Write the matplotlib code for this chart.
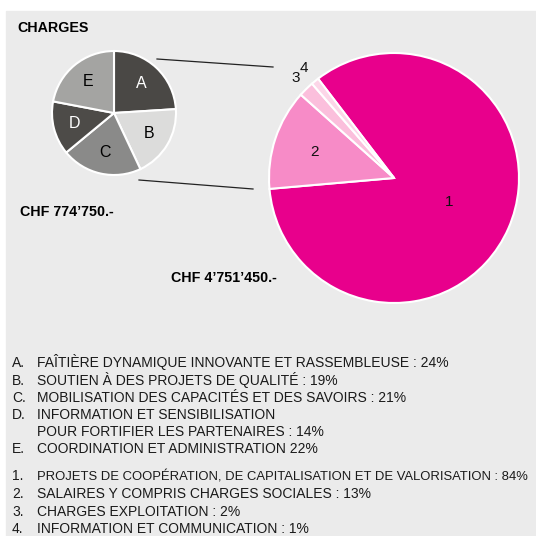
import matplotlib
matplotlib.use('Agg')
import matplotlib.pyplot as plt
from matplotlib.patches import Rectangle
import numpy as np

plt.rcParams['font.family'] = ['Liberation Sans', 'DejaVu Sans']

# Petit camembert (charges par axe)
axes_labels = ['A', 'B', 'C', 'D', 'E']
axes_values = [24, 19, 21, 14, 22]
axes_colors = ['#4a4845', '#dcdcdb', '#8a8a89', '#4d4b48', '#a4a4a2']
axes_text_colors = ['white', 'black', 'black', 'white', 'black']

# Grand camembert (charges par nature)
nat_labels = ['1', '2', '3', '4']
nat_values = [84, 13, 2, 1]
nat_colors = ['#e8008c', '#f78bc7', '#fbbfdc', '#fcd6e8']

legend_axes = [
    'A.|FAÎTIÈRE DYNAMIQUE INNOVANTE ET RASSEMBLEUSE : 24%',
    'B.|SOUTIEN À DES PROJETS DE QUALITÉ : 19%',
    'C.|MOBILISATION DES CAPACITÉS ET DES SAVOIRS : 21%',
    'D.|INFORMATION ET SENSIBILISATION',
    '|POUR FORTIFIER LES PARTENAIRES : 14%',
    'E.|COORDINATION ET ADMINISTRATION 22%',
]
legend_nat = [
    '1.|PROJETS DE COOPÉRATION, DE CAPITALISATION ET DE VALORISATION : 84%',
    '2.|SALAIRES Y COMPRIS CHARGES SOCIALES : 13%',
    '3.|CHARGES EXPLOITATION : 2%',
    '4.|INFORMATION ET COMMUNICATION : 1%',
]

W = H = 536
fig = plt.figure(figsize=(5.36, 5.36), dpi=100)
ax = fig.add_axes([0, 0, 1, 1])

def Y(y):
    return H - y

# fond gris
ax.add_patch(Rectangle((6, 0), 530, Y(11), color='#ebebeb', zorder=0))

# petit camembert
c1, r1 = (114, Y(113)), 62
w1, _ = ax.pie(axes_values, colors=axes_colors, startangle=90, counterclock=False,
               center=c1, radius=r1, wedgeprops=dict(edgecolor='white', linewidth=1.5))
for w, lab, tc in zip(w1, axes_labels, axes_text_colors):
    a = np.deg2rad((w.theta1 + w.theta2) / 2)
    ax.text(c1[0] + 0.65 * r1 * np.cos(a), c1[1] + 0.65 * r1 * np.sin(a), lab,
            ha='center', va='center', fontsize=11.5, color=tc)

# grand camembert
c2, r2 = (394, Y(178)), 125
w2, _ = ax.pie(nat_values, colors=nat_colors, startangle=127.4, counterclock=False,
               center=c2, radius=r2, wedgeprops=dict(edgecolor='white', linewidth=1.5))
dists = [0.48, 0.67, 1.12, 1.14]
for w, lab, d in zip(w2, nat_labels, dists):
    a = np.deg2rad((w.theta1 + w.theta2) / 2)
    ax.text(c2[0] + d * r2 * np.cos(a), c2[1] + d * r2 * np.sin(a), lab,
            ha='center', va='center', fontsize=11, color='#111111')

# traits de liaison
ax.plot([157, 273], [Y(59), Y(67)], color='#222222', lw=0.9)
ax.plot([139, 253], [Y(180), Y(189)], color='#222222', lw=0.9)

ax.text(17, Y(28), 'CHARGES', fontsize=10.3, fontweight='bold', va='center')
ax.text(20, Y(212), 'CHF 774’750.-', fontsize=10.3, fontweight='bold', va='center')
ax.text(171, Y(278), 'CHF 4’751’450.-', fontsize=10.3, fontweight='bold', va='center')

# légendes (ligne de base)
ys = [362, 380, 397, 414, 431, 448]
for y, line in zip(ys, legend_axes):
    n, t = line.split('|')
    ax.text(12, Y(y + 5), n, fontsize=10, va='baseline', color='#1a1a1a')
    ax.text(37, Y(y + 5), t, fontsize=10, va='baseline', color='#1a1a1a')
ys = [475, 493, 511, 528]
sizes = [9.35, 10, 10, 10]
for y, line, fs in zip(ys, legend_nat, sizes):
    n, t = line.split('|')
    ax.text(12, Y(y + 5), n, fontsize=10, va='baseline', color='#1a1a1a')
    ax.text(37, Y(y + 5), t, fontsize=fs, va='baseline', color='#1a1a1a')

ax.set_xlim(0, W)
ax.set_ylim(0, H)
ax.set_aspect('equal')
ax.axis('off')

fig.savefig('out.png', dpi=100, facecolor='white')
